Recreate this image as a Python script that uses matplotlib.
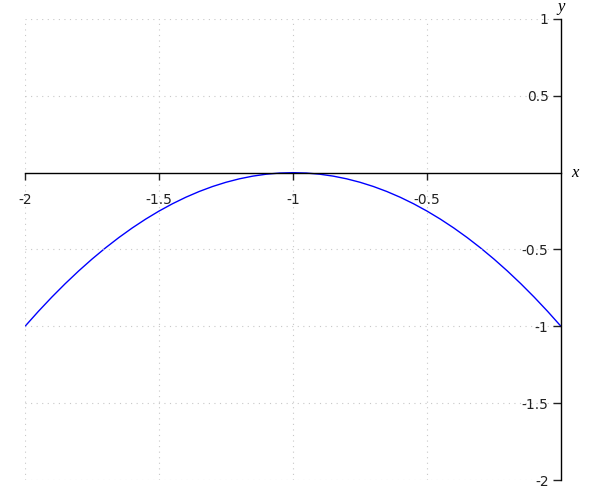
import matplotlib
matplotlib.use("Agg")
import matplotlib.pyplot as plt

plt.rcParams['axes.unicode_minus'] = False

# points
xs = [-2.0, -1.95, -1.9, -1.85, -1.8, -1.75, -1.7, -1.65, -1.6, -1.55, -1.5,
      -1.45, -1.4, -1.35, -1.3, -1.25, -1.2, -1.15, -1.1, -1.05, -1.0,
      -0.95, -0.9, -0.85, -0.8, -0.75, -0.7, -0.65, -0.6, -0.55, -0.5,
      -0.45, -0.4, -0.35, -0.3, -0.25, -0.2, -0.15, -0.1, -0.05, 0.0]
ys = [-1.0, -0.9025, -0.81, -0.7225, -0.64, -0.5625, -0.49, -0.4225, -0.36, -0.3025, -0.25,
      -0.2025, -0.16, -0.1225, -0.09, -0.0625, -0.04, -0.0225, -0.01, -0.0025, 0.0,
      -0.0025, -0.01, -0.0225, -0.04, -0.0625, -0.09, -0.1225, -0.16, -0.2025, -0.25,
      -0.3025, -0.36, -0.4225, -0.49, -0.5625, -0.64, -0.7225, -0.81, -0.9025, -1.0]

xticks = [-2, -1.5, -1, -0.5]
xticklabels = ['-2', '-1.5', '-1', '-0.5']
yticks = [1, 0.5, -0.5, -1, -1.5, -2]
yticklabels = ['1', '0.5', '-0.5', '-1', '-1.5', '-2']

fig = plt.figure(figsize=(6, 5), dpi=100)
ax = fig.add_axes([25/600, 1 - 480/500, (561 - 25)/600, (480 - 19)/500])

# curve under the axis so tick labels sit on top of it
ax.plot(xs, ys, color='blue', linewidth=1, zorder=1)

ax.set_xlim(-2, 0)
ax.set_ylim(-2, 1)

ax.spines['left'].set_position(('data', 0))
ax.spines['bottom'].set_position(('data', 0))
ax.spines['right'].set_visible(False)
ax.spines['top'].set_visible(False)
ax.spines['left'].set_linewidth(1)
ax.spines['bottom'].set_linewidth(1)

ax.set_xticks(xticks)
ax.set_xticklabels(xticklabels)
ax.set_yticks(yticks)
ax.set_yticklabels(yticklabels)
ax.tick_params(axis='x', direction='out', length=5, width=1, pad=10, labelsize=10, colors='#222222')
ax.tick_params(axis='y', direction='out', length=6, width=1, pad=3, labelsize=10, colors='#222222')

ax.grid(True, linestyle=(0, (1, 4)), color='#c8c8c8', linewidth=0.8)

ax.text(1.025, 0.667, 'x', transform=ax.transAxes, fontsize=12, style='italic',
        family='Liberation Serif', ha='center', va='center')
ax.text(1.0, 1.025, 'y', transform=ax.transAxes, fontsize=12, style='italic',
        family='Liberation Serif', ha='center', va='center')

fig.savefig('out.png')
